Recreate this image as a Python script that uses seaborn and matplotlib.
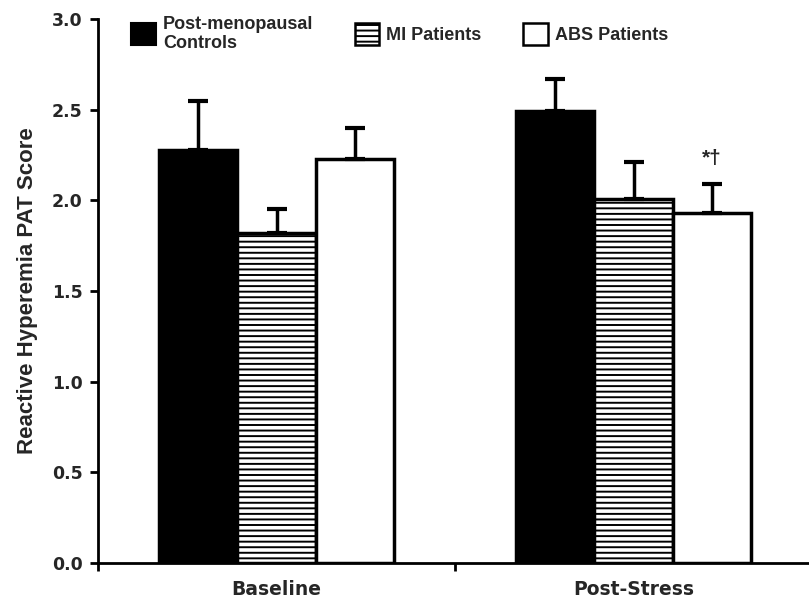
import matplotlib
matplotlib.use("Agg")
import matplotlib.pyplot as plt
from matplotlib.patches import Patch
import seaborn as sns
import pandas as pd
import numpy as np

sns.set_style("ticks")
plt.rcParams['font.family'] = ['DejaVu Sans']
plt.rcParams['hatch.linewidth'] = 1.4

conditions = ["Baseline", "Post-Stress"]
groups = ["Post-menopausal\nControls", "MI Patients", "ABS Patients"]
controls = [2.28, 2.49]
mi = [1.82, 2.01]
abs_p = [2.23, 1.93]
controls_err = [0.27, 0.18]
mi_err = [0.13, 0.20]
abs_err = [0.17, 0.16]
yticks = [0.0, 0.5, 1.0, 1.5, 2.0, 2.5, 3.0]
annotation = "*†"

df = pd.DataFrame({
    "condition": conditions * 3,
    "group": [groups[0]] * 2 + [groups[1]] * 2 + [groups[2]] * 2,
    "value": controls + mi + abs_p,
    "err": controls_err + mi_err + abs_err,
})

fig = plt.figure(figsize=(8.09, 5.98), dpi=100)
ax = fig.add_axes([98 / 809, 35 / 598, 714 / 809, 544 / 598])

palette = {groups[0]: "black", groups[1]: "white", groups[2]: "white"}
sns.barplot(data=df, x="condition", y="value", hue="group", order=conditions,
            hue_order=groups, palette=palette, width=0.66, errorbar=None,
            edgecolor="black", linewidth=2.5, legend=False, ax=ax, saturation=1)

bar_containers = list(ax.containers)
for gi, cont in enumerate(bar_containers):
    errs = df[df["group"] == groups[gi]]["err"].tolist()
    for bar, e in zip(cont, errs):
        if gi == 1:
            bar.set_hatch("---")
        cx = bar.get_x() + bar.get_width() / 2
        h = bar.get_height()
        ax.errorbar([cx], [h], yerr=[[0], [e]], fmt="none", ecolor="black",
                    elinewidth=2.5, capsize=7.5, capthick=3, zorder=1)

# annotation above ABS post-stress
bar = bar_containers[2][1]
e = abs_err[1]
ax.text(bar.get_x() + bar.get_width() / 2, bar.get_height() + e + 0.09, annotation,
        ha="center", va="bottom", fontsize=15, fontweight="bold",
        family=["Liberation Sans", "DejaVu Sans"])

ax.set_ylim(0, 3.0)
ax.set_xlim(-0.5, 1.5)
ax.set_yticks(yticks)
ax.set_yticklabels([f"{t:.1f}" for t in yticks], fontsize=12.5, fontweight="bold")
ax.set_xticks([-0.5, 0.5, 1.5])
ax.set_xticklabels([])
ax.set_xticks([0, 1], minor=True)
ax.set_xticklabels(conditions, minor=True, fontsize=13.5, fontweight="bold")
ax.tick_params(axis="x", which="minor", length=0, pad=12)
ax.tick_params(axis="both", which="major", length=6, width=2, direction="out", color="black")
ax.tick_params(axis="y", which="major", pad=5)
ax.set_xlabel("")
ax.set_ylabel("Reactive Hyperemia PAT Score", fontsize=16, fontweight="bold",
              family=["Liberation Sans", "DejaVu Sans"], labelpad=10)
for side in ["top", "right"]:
    ax.spines[side].set_visible(False)
for side in ["left", "bottom"]:
    ax.spines[side].set_linewidth(2)
    ax.spines[side].set_color("black")

handles = [
    Patch(facecolor="black", edgecolor="black", linewidth=1.5),
    Patch(facecolor="white", edgecolor="black", linewidth=1.8, hatch="---"),
    Patch(facecolor="white", edgecolor="black", linewidth=1.8),
]
leg = fig.legend(handles, groups, loc="upper left", bbox_to_anchor=(115 / 809, 1.0),
                 ncol=3, frameon=False, handlelength=1.35, handleheight=1.5,
                 handletextpad=0.4, columnspacing=2.3, labelspacing=0.2,
                 prop={"family": "Liberation Sans", "weight": "bold", "size": 13})
for t in leg.get_texts():
    t.set_linespacing(1.1)

fig.savefig("out.png", dpi=100)
